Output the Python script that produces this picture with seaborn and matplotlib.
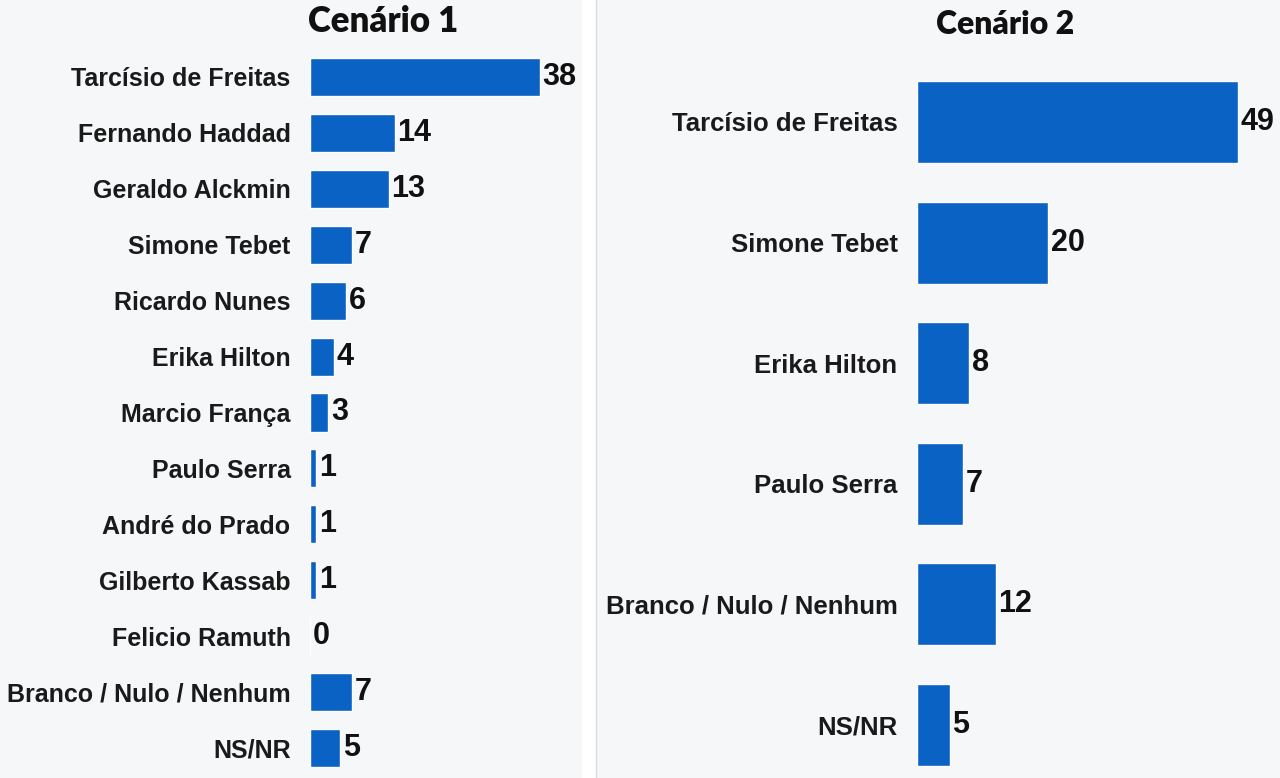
import pandas as pd
import matplotlib.pyplot as plt
import seaborn as sns
from matplotlib.patches import Rectangle

# dados
cand1 = ['Tarcísio de Freitas', 'Fernando Haddad', 'Geraldo Alckmin', 'Simone Tebet',
         'Ricardo Nunes', 'Erika Hilton', 'Marcio França', 'Paulo Serra',
         'André do Prado', 'Gilberto Kassab', 'Felicio Ramuth',
         'Branco / Nulo / Nenhum', 'NS/NR']
vals1 = [38, 14, 13, 7, 6, 4, 3, 1, 1, 1, 0, 7, 5]

cand2 = ['Tarcísio de Freitas', 'Simone Tebet', 'Erika Hilton', 'Paulo Serra',
         'Branco / Nulo / Nenhum', 'NS/NR']
vals2 = [49, 20, 8, 7, 12, 5]

titles = ['Cenário 1', 'Cenário 2']

sns.set_style('white')
plt.rcParams['font.family'] = ['Liberation Sans', 'DejaVu Sans']

azul = '#0a62c4'
fundo = '#f6f7f9'

fig = plt.figure(figsize=(12.8, 7.78), dpi=100, facecolor='white')
# fundos dos dois paineis
fig.patches.append(Rectangle((0, 0), 582 / 1280, 1, transform=fig.transFigure,
                             facecolor=fundo, edgecolor='none', zorder=-10))
fig.patches.append(Rectangle((597 / 1280, 0), 683 / 1280, 1, transform=fig.transFigure,
                             facecolor=fundo, edgecolor='none', zorder=-10))
fig.lines.append(plt.Line2D([596 / 1280, 596 / 1280], [0.0, 1.0], transform=fig.transFigure,
                            color='#dcdcdc', lw=1, zorder=-9))

ax1 = fig.add_axes([310 / 1280, 1 - 776 / 778, 242 / 1280, 727 / 778])
ax2 = fig.add_axes([917 / 1280, 1 - 785.3 / 778, 321 / 1280, 723.6 / 778])

df1 = pd.DataFrame({'cand': cand1, 'val': vals1})
df2 = pd.DataFrame({'cand': cand2, 'val': vals2})

for ax, df, xmax, fs in [(ax1, df1, 40, 18), (ax2, df2, 49, 18.5)]:
    sns.barplot(data=df, x='val', y='cand', color=azul, saturation=1, width=0.68, ax=ax)
    ax.bar_label(ax.containers[0], padding=2, fontsize=22, fontweight='bold',
                 color='#111111', clip_on=False)
    ax.set_xlim(0, xmax)
    ax.set_ylim(len(df) - 0.5, -0.5)
    ax.set_xlabel('')
    ax.set_ylabel('')
    ax.set_xticks([])
    ax.set_facecolor('none')
    ax.tick_params(axis='y', length=0, pad=14)
    for lbl in ax.get_yticklabels():
        lbl.set_fontsize(fs)
        lbl.set_fontweight('bold')
        lbl.set_color('#1a1a1a')
    sns.despine(ax=ax, left=True, bottom=True)

fig.text(383 / 1280, 1 - 22 / 778, titles[0], ha='center', va='center',
         fontsize=25, fontweight='heavy', family=['Lato', 'DejaVu Sans'], color='#111111')
fig.text(1005 / 1280, 1 - 24 / 778, titles[1], ha='center', va='center',
         fontsize=23, fontweight='heavy', family=['Lato', 'DejaVu Sans'], color='#111111')

fig.savefig('out.png', dpi=100, facecolor=fig.get_facecolor())
